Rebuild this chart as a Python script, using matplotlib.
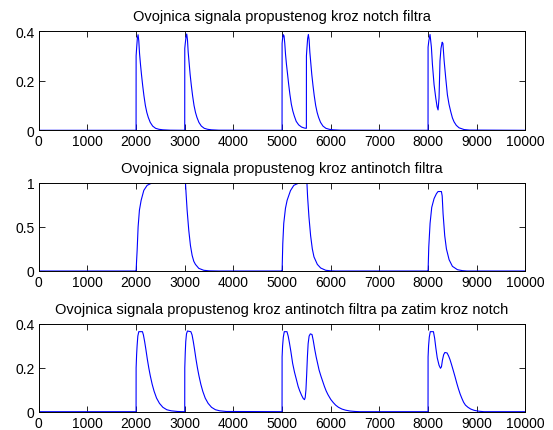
import matplotlib
matplotlib.use("Agg")
import matplotlib.pyplot as plt

# Envelope samples (sample index, envelope value) for each filtered signal
notch_env = [
    (0, 0), (1999, 0),
    (2000, 0.30), (2010, 0.33), (2025, 0.37), (2040, 0.385), (2055, 0.36), (2070, 0.31),
    (2090, 0.265), (2110, 0.225), (2135, 0.18), (2160, 0.14), (2190, 0.10), (2220, 0.072),
    (2250, 0.052), (2290, 0.032), (2340, 0.017), (2400, 0.008), (2470, 0.004), (2550, 0.002),
    (2700, 0.0005), (2999, 0),
    (3000, 0.33), (3010, 0.35), (3025, 0.375), (3040, 0.388), (3055, 0.365), (3070, 0.315),
    (3090, 0.27), (3110, 0.225), (3135, 0.18), (3160, 0.14), (3190, 0.10), (3220, 0.072),
    (3250, 0.052), (3290, 0.032), (3340, 0.017), (3400, 0.008), (3470, 0.004), (3550, 0.002),
    (3700, 0.0005), (4999, 0),
    (5000, 0.35), (5010, 0.37), (5025, 0.385), (5040, 0.38), (5055, 0.35), (5070, 0.307),
    (5090, 0.265), (5110, 0.23), (5135, 0.185), (5160, 0.145), (5190, 0.105), (5220, 0.078),
    (5250, 0.058), (5290, 0.036), (5340, 0.022), (5400, 0.013), (5460, 0.009), (5499, 0.008),
    (5500, 0.30), (5510, 0.33), (5525, 0.37), (5540, 0.386), (5555, 0.365), (5570, 0.315),
    (5590, 0.27), (5610, 0.225), (5635, 0.18), (5660, 0.14), (5690, 0.10), (5720, 0.072),
    (5750, 0.052), (5790, 0.032), (5840, 0.017), (5900, 0.008), (5970, 0.004), (6050, 0.002),
    (6200, 0.0005), (7999, 0),
    (8000, 0.335), (8015, 0.36), (8040, 0.386), (8068, 0.335), (8089, 0.266), (8123, 0.184),
    (8158, 0.13), (8185, 0.095), (8205, 0.082), (8225, 0.13), (8245, 0.28), (8265, 0.33),
    (8290, 0.355), (8305, 0.35), (8330, 0.28), (8363, 0.21), (8397, 0.143), (8430, 0.105),
    (8466, 0.075), (8500, 0.05), (8534, 0.034), (8580, 0.02), (8637, 0.01), (8740, 0.003),
    (8850, 0.001), (10000, 0),
]

antinotch_env = [
    (0, 0), (1999, 0),
    (2000, 0.0), (2010, 0.12), (2021, 0.234), (2041, 0.5), (2068, 0.69), (2103, 0.80),
    (2158, 0.913), (2226, 0.97), (2300, 0.99), (2397, 1.0), (3014, 1.0), (3027, 0.875),
    (3048, 0.69), (3082, 0.46), (3116, 0.29), (3151, 0.177), (3185, 0.11), (3219, 0.075),
    (3288, 0.03), (3390, 0.008), (3500, 0.002), (3700, 0), (4999, 0),
    (5000, 0), (5014, 0.31), (5034, 0.54), (5069, 0.71), (5103, 0.80), (5172, 0.91),
    (5241, 0.97), (5345, 0.996), (5483, 1.0), (5510, 1.0), (5524, 0.84), (5552, 0.61),
    (5586, 0.40), (5621, 0.25), (5655, 0.16), (5724, 0.075), (5793, 0.034), (5897, 0.008),
    (6000, 0.002), (6100, 0), (7999, 0),
    (8000, 0), (8014, 0.27), (8041, 0.54), (8075, 0.72), (8123, 0.82), (8171, 0.875),
    (8205, 0.90), (8274, 0.90), (8290, 0.85), (8308, 0.65), (8342, 0.40), (8377, 0.25),
    (8432, 0.128), (8500, 0.053), (8603, 0.015), (8705, 0.004), (8800, 0), (10000, 0),
]

cascade_env = [
    (0, 0), (1999, 0),
    (2000, 0.20), (2010, 0.26), (2020, 0.30), (2035, 0.345), (2055, 0.365), (2130, 0.365),
    (2150, 0.35), (2175, 0.32), (2200, 0.285), (2230, 0.24), (2260, 0.20), (2290, 0.165),
    (2330, 0.125), (2370, 0.093), (2420, 0.062), (2480, 0.038), (2550, 0.02), (2630, 0.009),
    (2720, 0.004), (2850, 0.001), (2999, 0),
    (3000, 0.20), (3010, 0.27), (3020, 0.32), (3035, 0.355), (3055, 0.368), (3125, 0.365),
    (3150, 0.35), (3175, 0.32), (3200, 0.285), (3230, 0.24), (3260, 0.20), (3290, 0.165),
    (3330, 0.125), (3370, 0.093), (3420, 0.062), (3480, 0.038), (3550, 0.02), (3630, 0.009),
    (3720, 0.004), (3850, 0.001), (4999, 0),
    (5000, 0.25), (5010, 0.30), (5025, 0.34), (5045, 0.365), (5100, 0.365), (5125, 0.345),
    (5150, 0.315), (5180, 0.275), (5217, 0.22), (5255, 0.18), (5290, 0.15), (5330, 0.115),
    (5362, 0.095), (5400, 0.075), (5435, 0.06), (5460, 0.055), (5475, 0.065), (5490, 0.10),
    (5505, 0.17), (5520, 0.25), (5535, 0.31), (5555, 0.345), (5580, 0.355), (5615, 0.352),
    (5640, 0.325), (5670, 0.285), (5700, 0.25), (5725, 0.225), (5760, 0.19), (5797, 0.163),
    (5835, 0.138), (5870, 0.115), (5905, 0.095), (5942, 0.078), (6000, 0.056), (6050, 0.042),
    (6100, 0.03), (6159, 0.02), (6230, 0.012), (6304, 0.007), (6400, 0.003), (6500, 0.001),
    (6600, 0), (7999, 0),
    (8000, 0.25), (8010, 0.30), (8025, 0.34), (8045, 0.365), (8110, 0.365), (8135, 0.335),
    (8160, 0.29), (8188, 0.246), (8225, 0.212), (8255, 0.198), (8275, 0.205), (8295, 0.235),
    (8320, 0.26), (8345, 0.27), (8390, 0.268), (8420, 0.255), (8450, 0.238), (8478, 0.218),
    (8515, 0.19), (8551, 0.162), (8590, 0.13), (8623, 0.105), (8660, 0.08), (8696, 0.06),
    (8730, 0.043), (8768, 0.03), (8820, 0.02), (8877, 0.012), (8950, 0.006), (9050, 0.002),
    (9150, 0), (10000, 0),
]

titles = [
    "Ovojnica signala propustenog kroz notch filtra",
    "Ovojnica signala propustenog kroz antinotch filtra",
    "Ovojnica signala propustenog kroz antinotch filtra pa zatim kroz notch",
]
x_ticks = list(range(0, 10001, 1000))
y_ticks = [[0, 0.2, 0.4], [0, 0.5, 1], [0, 0.2, 0.4]]
y_tick_labels = [["0", "0.2", "0.4"], ["0", "0.5", "1"], ["0", "0.2", "0.4"]]
y_limits = [(0, 0.4), (0, 1), (0, 0.4)]

plt.rcParams["font.family"] = ["Liberation Sans", "DejaVu Sans"]
plt.rcParams["font.size"] = 10

fig = plt.figure(figsize=(5.53, 4.31), dpi=100)
W, H = 553.0, 431.0
left, right = 38.8, 525.4
boxes = [(32.0, 131.3), (183.7, 272.0), (325.0, 412.7)]

for i, (env, (top, bottom)) in enumerate(zip([notch_env, antinotch_env, cascade_env], boxes)):
    ax = fig.add_axes([left / W, 1 - bottom / H, (right - left) / W, (bottom - top) / H])
    xs = [p[0] for p in env]
    ys = [p[1] for p in env]
    ax.plot(xs, ys, color=(0, 0, 1), lw=0.8)
    ax.set_xlim(0, 10000)
    ax.set_ylim(*y_limits[i])
    ax.set_xticks(x_ticks)
    ax.set_xticklabels([str(t) for t in x_ticks])
    ax.set_yticks(y_ticks[i])
    ax.set_yticklabels(y_tick_labels[i])
    ax.tick_params(direction="in", top=True, right=True, length=4, width=0.6,
                   labelsize=10, pad=3)
    for s in ax.spines.values():
        s.set_linewidth(0.7)
    ax.set_title(titles[i], fontsize=10.5, pad=8)

fig.savefig("out.png", dpi=100)
